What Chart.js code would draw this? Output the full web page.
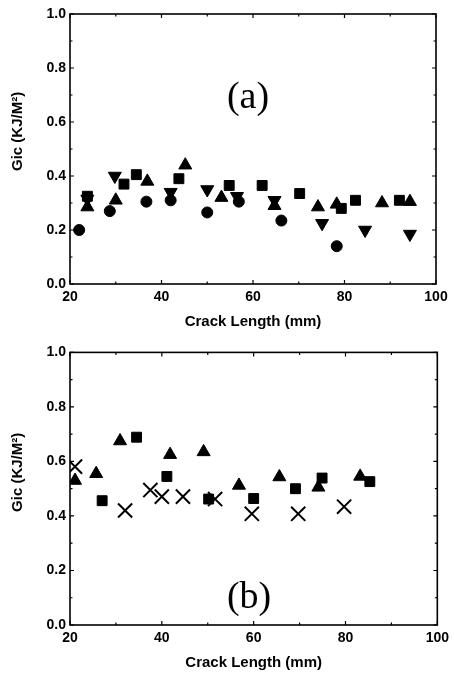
<!DOCTYPE html>
<html><head><meta charset="utf-8">
<script src="https://cdn.jsdelivr.net/npm/chart.js@4/dist/chart.umd.min.js"></script>
<style>
body{margin:0;background:#fff;width:454px;height:678px;overflow:hidden;position:relative}
.c{position:absolute;left:0;width:454px}
</style></head><body>
<div class="c" style="top:0;height:340px"><canvas id="a"></canvas></div>
<div class="c" style="top:340px;height:338px"><canvas id="b"></canvas></div>
<script>
// ---- data ----
const xTicks = [20, 40, 60, 80, 100];
const yTicks = [0.0, 0.2, 0.4, 0.6, 0.8, 1.0];
const xTitle = 'Crack Length (mm)';
const yTitle = 'Gic (KJ/M\u00B2)';

// panel (a)
const aCircleX = [22.0, 28.7, 36.7, 42.0, 50.0, 56.9, 66.2, 78.3];
const aCircleY = [0.20, 0.27, 0.305, 0.31, 0.265, 0.305, 0.235, 0.14];
const aSquareX = [23.8, 31.8, 34.5, 43.8, 54.8, 62.0, 70.2, 79.3, 82.4, 92.0];
const aSquareY = [0.325, 0.37, 0.405, 0.39, 0.365, 0.365, 0.335, 0.28, 0.31, 0.31];
const aUpX = [23.8, 30.0, 36.9, 45.2, 53.1, 64.7, 74.2, 78.3, 88.2, 94.3];
const aUpY = [0.285, 0.31, 0.38, 0.44, 0.32, 0.29, 0.285, 0.295, 0.30, 0.305];
const aDownX = [23.8, 29.8, 42.0, 50.0, 56.5, 64.7, 75.1, 84.5, 94.3];
const aDownY = [0.315, 0.40, 0.34, 0.35, 0.325, 0.31, 0.225, 0.20, 0.185];

// panel (b)
const bUpX = [21.1, 25.7, 30.9, 41.8, 49.1, 56.8, 65.6, 74.1, 83.2];
const bUpY = [0.53, 0.555, 0.675, 0.625, 0.635, 0.512, 0.543, 0.505, 0.545];
const bSquareX = [27.0, 34.5, 41.1, 50.2, 60.0, 69.1, 74.9, 85.3];
const bSquareY = [0.456, 0.689, 0.545, 0.462, 0.464, 0.50, 0.539, 0.526];
const bCrossX = [21.1, 32.0, 37.5, 40.0, 44.6, 51.6, 59.6, 69.7, 79.7];
const bCrossY = [0.581, 0.42, 0.495, 0.471, 0.471, 0.462, 0.408, 0.408, 0.434];

function pts(xs, ys) { return xs.map((x, i) => ({x: x, y: ys[i]})); }

function ds(xs, ys, style, r, rot) {
  return {
    data: pts(xs, ys), showLine: false,
    pointStyle: style, pointRadius: r, pointHoverRadius: r,
    pointRotation: rot || 0,
    backgroundColor: '#000', borderColor: '#000',
    pointBorderWidth: style === 'crossRot' ? 2 : 1
  };
}

const frame = {
  id: 'frame',
  afterDatasetsDraw(chart, args, o) {
    const ctx = chart.ctx, a = chart.chartArea;
    const xs = chart.scales.x, ys = chart.scales.y;
    ctx.save();
    ctx.strokeStyle = '#000';
    ctx.lineWidth = 1.6;
    ctx.strokeRect(a.left, a.top, a.right - a.left, a.bottom - a.top);
    ctx.lineWidth = 1.2;
    ctx.beginPath();
    for (let v = 20; v <= 100; v += 10) {
      const p = xs.getPixelForValue(v);
      const L = (v % 20 === 0) ? 4 : 2.5;
      ctx.moveTo(p, a.bottom); ctx.lineTo(p, a.bottom - L);
      ctx.moveTo(p, a.top); ctx.lineTo(p, a.top + L);
    }
    for (let k = 0; k <= 10; k++) {
      const p = ys.getPixelForValue(k / 10);
      const L = (k % 2 === 0) ? 4 : 2.5;
      ctx.moveTo(a.left, p); ctx.lineTo(a.left + L, p);
      ctx.moveTo(a.right, p); ctx.lineTo(a.right - L, p);
    }
    ctx.stroke();
    ctx.fillStyle = '#000';
    // y-axis title
    ctx.save();
    ctx.translate(18, ys.getPixelForValue(o.ty));
    ctx.rotate(-Math.PI / 2);
    ctx.font = 'bold 15px "Liberation Sans", Arial, sans-serif';
    ctx.textAlign = 'center';
    ctx.textBaseline = 'middle';
    ctx.fillText(yTitle, 0, 0);
    ctx.restore();
    // panel label
    ctx.font = '38px "Liberation Serif", "Times New Roman", serif';
    ctx.textAlign = 'center';
    ctx.textBaseline = 'middle';
    ctx.fillText(o.label, xs.getPixelForValue(o.lx), ys.getPixelForValue(o.ly));
    ctx.restore();
  }
};

function make(id, datasets, cfg) {
  return new Chart(document.getElementById(id), {
    type: 'scatter',
    data: { datasets: datasets },
    plugins: [frame],
    options: {
      responsive: true, maintainAspectRatio: false, animation: false,
      events: [],
      layout: { padding: { left: 0, right: cfg.padRight, top: cfg.padTop, bottom: 0 } },
      plugins: {
        legend: { display: false }, tooltip: { enabled: false },
        frame: { label: cfg.label, lx: cfg.lx, ly: cfg.ly, ty: cfg.ty }
      },
      scales: {
        x: {
          type: 'linear', min: 20, max: 100,
          afterBuildTicks: s => { s.ticks = xTicks.map(v => ({value: v})); },
          afterFit: s => { s.height = cfg.xHeight; },
          grid: { display: false, drawTicks: false },
          border: { display: false },
          ticks: { color: '#000', padding: 5, maxRotation: 0, autoSkip: false,
                   font: { family: '"Liberation Sans", Arial, sans-serif', size: 14, weight: 'bold' } },
          title: { display: true, text: xTitle, color: '#000',
                   padding: { top: 0, bottom: cfg.titlePad },
                   font: { family: '"Liberation Sans", Arial, sans-serif', size: 15, weight: 'bold' } }
        },
        y: {
          type: 'linear', min: 0, max: 1,
          afterBuildTicks: s => { s.ticks = yTicks.map(v => ({value: v})); },
          afterFit: s => { s.width = 70; },
          grid: { display: false, drawTicks: false },
          border: { display: false },
          ticks: { color: '#000', padding: 4, callback: v => v.toFixed(1),
                   font: { family: '"Liberation Sans", Arial, sans-serif', size: 14, weight: 'bold' } },
          title: { display: false }
        }
      }
    }
  });
}

make('a', [
  ds(aCircleX, aCircleY, 'circle', 5.5),
  ds(aSquareX, aSquareY, 'rect', 7),
  ds(aUpX, aUpY, 'triangle', 7.5),
  ds(aDownX, aDownY, 'triangle', 7.5, 180)
], { padTop: 14, padRight: 18, xHeight: 56, titlePad: 9, label: '(a)', lx: 58.9, ly: 0.69, ty: 0.565 });

make('b', [
  ds(bUpX, bUpY, 'triangle', 7.5),
  ds(bSquareX, bSquareY, 'rect', 7),
  ds(bCrossX, bCrossY, 'crossRot', 10)
], { padTop: 7, padRight: 10, xHeight: 53, titlePad: 6, label: '(b)', lx: 59.0, ly: 0.10, ty: 0.56 });
</script>
</body></html>
